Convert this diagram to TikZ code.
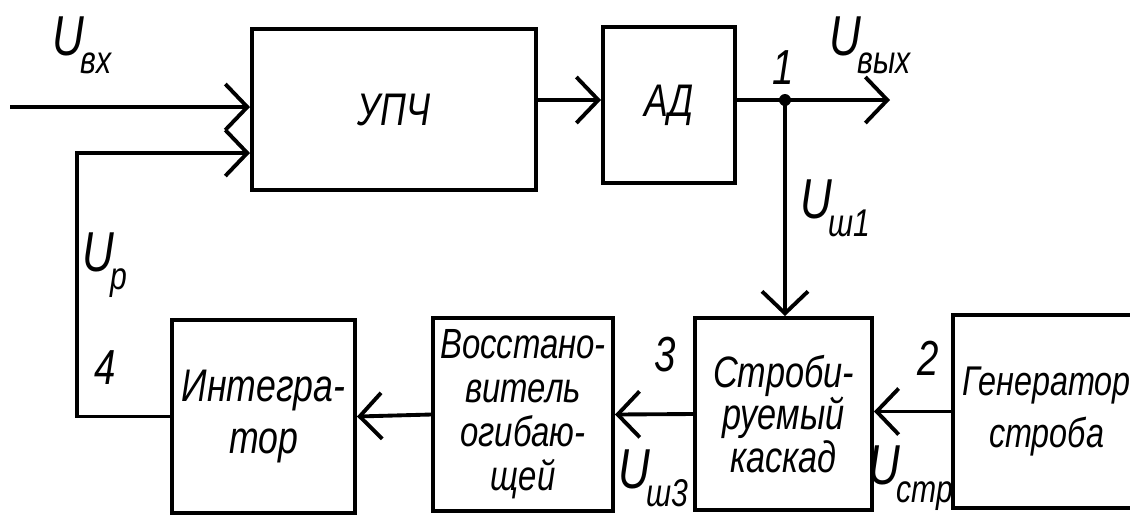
\documentclass[tikz,border=0pt]{standalone}
\usepackage{fontspec}
\setmainfont{Liberation Sans}[FakeStretch=0.78]
\usetikzlibrary{arrows.meta,positioning}
\newcommand{\sig}[1]{{\fontsize{16}{16}\selectfont\itshape U}\kern-1pt\raisebox{-0.7ex}{\fontsize{11}{11}\selectfont\itshape #1}}
\tikzset{
  blk/.style={draw=black,line width=1.1pt,align=center,inner sep=0pt,
              font=\fontsize{13}{15}\selectfont\itshape},
  fl/.style={-{Straight Barb[length=2.2mm,width=4.6mm]},line width=1.1pt},
  lbl/.style={font=\fontsize{14}{14}\selectfont\itshape,inner sep=0pt},
}
\begin{document}
\begin{tikzpicture}[x=0.01cm,y=-0.01cm]
    \useasboundingbox (0,0) rectangle (1130,523);
    \node[blk,minimum width=2.84cm,minimum height=1.61cm] (upch) at (394,109.5) {УПЧ};
    \node[blk,minimum width=1.32cm,minimum height=1.56cm] (ad) at (669,105) {АД};
    \node[blk,minimum width=1.83cm,minimum height=1.93cm] (integr) at (263.5,416.5) {Интегра-\\тор};
    \node[blk,minimum width=1.80cm,minimum height=1.93cm,font=\fontsize{12}{12.5}\selectfont\itshape] (vosst) at (523,414.5) {Восстано-\\витель\\огибаю-\\щей};
    \node[blk,minimum width=1.77cm,minimum height=1.92cm,font=\fontsize{12.5}{12}\selectfont\itshape] (strob) at (783.5,414) {Строби-\\руемый\\каскад};
    \node[blk,minimum width=1.87cm,minimum height=1.93cm,font=\fontsize{11.8}{15}\selectfont\itshape] (gen) at (1046.5,411.5) {Генератор\\строба};
    \coordinate (in) at (10,107);
    \coordinate (j1) at (785,100);
    \coordinate (out) at (890,100);
    \coordinate (fb) at (77,153);
    \draw[fl] (in) -- (in -| upch.west);
    \draw[fl] (integr.west) -| (fb) -- (fb -| upch.west);
    \draw[fl] (upch.east |- j1) -- (ad.west |- j1);
    \draw[fl] (ad.east |- j1) -- (out);
    \fill (j1) circle (6);
    \draw[fl] (j1) -- (j1 |- strob.north);
    \draw[fl] (gen.west) -- (strob.east |- gen.west);
    \draw[fl] (strob.west) -- (vosst.east);
    \draw[fl] (vosst.west) -- (integr.east);
    \node[lbl] (uin) at (82,45) {\sig{вх}};
    \node[lbl] (uout) at (870,45) {\sig{вых}};
    \node[lbl] (n1) at (783,68) {1};
    \node[lbl] (ush1) at (835,208) {\sig{ш1}};
    \node[lbl] (up) at (105,265) {\sig{р}};
    \node[lbl] (n4) at (105,368) {4};
    \node[lbl] (n3) at (665,355) {3};
    \node[lbl] (ush3) at (653,478) {\sig{ш3}};
    \node[lbl] (n2) at (928,358) {2};
    \node[lbl] (ustr) at (911,478) {\sig{стр}};
\end{tikzpicture}
\end{document}
